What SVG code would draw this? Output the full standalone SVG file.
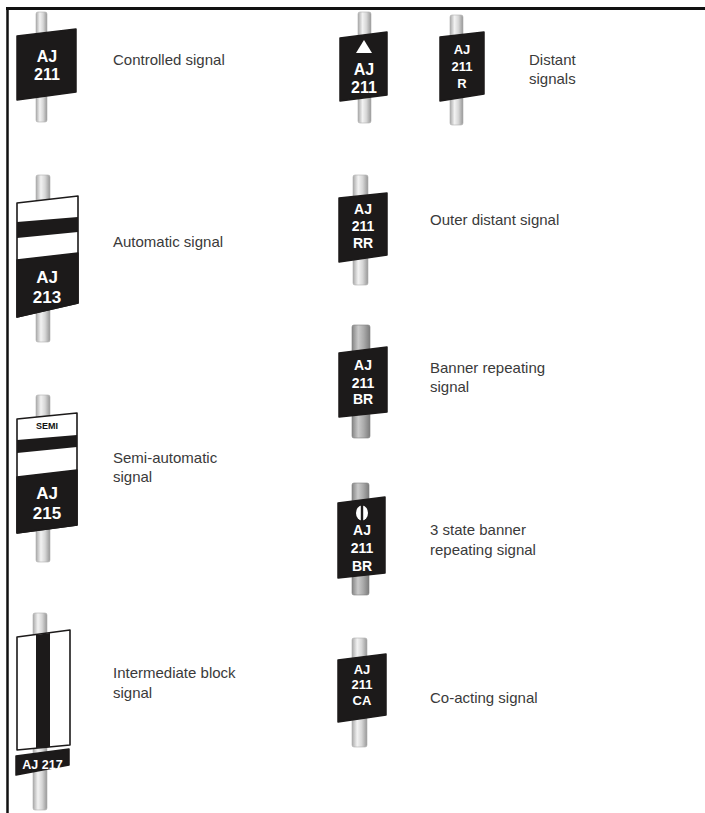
<svg xmlns="http://www.w3.org/2000/svg" width="705" height="813" viewBox="0 0 705 813">
<defs>
<linearGradient id="pole" x1="0" y1="0" x2="1" y2="0">
<stop offset="0" stop-color="#a9a9a9"/>
<stop offset="0.35" stop-color="#f2f2f2"/>
<stop offset="0.65" stop-color="#d6d6d6"/>
<stop offset="1" stop-color="#989898"/>
</linearGradient>
<linearGradient id="poleDark" x1="0" y1="0" x2="1" y2="0">
<stop offset="0" stop-color="#858585"/>
<stop offset="0.35" stop-color="#cacaca"/>
<stop offset="0.65" stop-color="#ababab"/>
<stop offset="1" stop-color="#7c7c7c"/>
</linearGradient>
</defs>
<style>
.pole{fill:url(#pole);stroke:#b0b0b0;stroke-width:0.6}
.poled{fill:url(#poleDark);stroke:#808080;stroke-width:0.6}
.board{fill:#1c1a1a;stroke:#1c1a1a;stroke-width:1.5;stroke-linejoin:round}
.wboard{fill:#fff;stroke:#1c1a1a;stroke-width:1.6;stroke-linejoin:round}
.blk{fill:#1c1a1a}
.st{font-family:"Liberation Sans",Arial,sans-serif;font-weight:bold;fill:#fff;text-anchor:middle}
.lbl{font-family:"Liberation Sans",Arial,sans-serif;font-size:15px;fill:#3a3a3a}
</style>
<g id="frame" stroke="#111" fill="none">
<line x1="6" y1="8.5" x2="705" y2="8.5" stroke-width="3"/>
<line x1="7.5" y1="7" x2="7.5" y2="813" stroke-width="2.5"/>
</g>
<g id="connectors"/>

<g id="controlled">
<rect class="pole" x="36" y="12" width="11" height="110" rx="2"/>
<path class="board" d="M17,36 L76,29 L76,92 L17,100 Z"/>
<text class="st" x="47" y="62" font-size="16">AJ</text>
<text class="st" x="47" y="80" font-size="16">211</text>
<text class="lbl" x="113" y="65">Controlled signal</text>
</g>

<g id="distant1">
<rect class="pole" x="358" y="12" width="13" height="111" rx="2"/>
<path class="board" d="M340,38 L387,32 L387,95 L340,101 Z"/>
<polygon points="364,40 356,53 372,53" fill="#fff"/>
<text class="st" x="364" y="75" font-size="16">AJ</text>
<text class="st" x="364" y="93" font-size="16">211</text>
</g>

<g id="distant2">
<rect class="pole" x="450" y="15" width="13" height="110" rx="2"/>
<path class="board" d="M440,37 L484,32 L484,94 L440,101 Z"/>
<text class="st" x="462" y="54" font-size="13">AJ</text>
<text class="st" x="462" y="71" font-size="13">211</text>
<text class="st" x="462" y="88" font-size="13">R</text>
<text class="lbl" x="529" y="65">Distant</text>
<text class="lbl" x="529" y="84">signals</text>
</g>

<g id="automatic">
<rect class="pole" x="36" y="175" width="14" height="167" rx="2"/>
<path class="wboard" d="M17,203 L78,196 L78,303 L17,317 Z"/>
<path class="blk" d="M17,222 L78,217 L78,232 L17,238 Z"/>
<path class="board" d="M17,260 L78,253 L78,303 L17,317 Z"/>
<text class="st" x="47" y="283" font-size="17">AJ</text>
<text class="st" x="47" y="303" font-size="17">213</text>
<text class="lbl" x="113" y="247">Automatic signal</text>
</g>

<g id="semi">
<rect class="pole" x="36" y="395" width="14" height="167" rx="2"/>
<path class="wboard" d="M17,419 L77,413 L77,525 L17,533 Z"/>
<text class="st" x="47" y="429" font-size="9" style="fill:#111">SEMI</text>
<path class="blk" d="M17,440 L77,435 L77,447 L17,453 Z"/>
<path class="board" d="M17,477 L77,470 L77,525 L17,533 Z"/>
<text class="st" x="47" y="499" font-size="17">AJ</text>
<text class="st" x="47" y="519" font-size="17">215</text>
<text class="lbl" x="113" y="463">Semi-automatic</text>
<text class="lbl" x="113" y="482">signal</text>
</g>

<g id="intermediate">
<rect class="pole" x="33" y="613" width="14" height="197" rx="2"/>
<path class="wboard" d="M17,637 L70,630 L70,745 L17,750 Z"/>
<path class="blk" d="M36,635 L50,633 L50,747 L36,748 Z"/>
<path class="board" d="M16,756 L69,749 L69,765 L16,775 Z"/>
<text class="st" x="42.5" y="769" font-size="12.5">AJ 217</text>
<text class="lbl" x="113" y="678">Intermediate block</text>
<text class="lbl" x="113" y="698">signal</text>
</g>

<g id="outer-distant">
<rect class="pole" x="353" y="175" width="15" height="110" rx="2"/>
<path class="board" d="M339,198 L387,193 L387,255 L339,262 Z"/>
<text class="st" x="363" y="214" font-size="14">AJ</text>
<text class="st" x="363" y="231" font-size="14">211</text>
<text class="st" x="363" y="248" font-size="14">RR</text>
<text class="lbl" x="430" y="225">Outer distant signal</text>
</g>

<g id="banner">
<rect class="poled" x="352" y="325" width="18" height="113" rx="2"/>
<path class="board" d="M339,353 L387,347 L387,412 L339,417 Z"/>
<text class="st" x="363" y="370" font-size="14">AJ</text>
<text class="st" x="363" y="388" font-size="14">211</text>
<text class="st" x="363" y="404" font-size="14">BR</text>
<text class="lbl" x="430" y="373">Banner repeating</text>
<text class="lbl" x="430" y="392">signal</text>
</g>

<g id="three-state">
<rect class="poled" x="352" y="483" width="17" height="112" rx="2"/>
<path class="board" d="M338,503 L385,497 L385,573 L338,578 Z"/>
<ellipse cx="362" cy="513" rx="6" ry="7.5" fill="#fff"/>
<rect x="360.8" y="505" width="2.4" height="16" fill="#1c1a1a"/>
<text class="st" x="362" y="535" font-size="14">AJ</text>
<text class="st" x="362" y="553" font-size="14">211</text>
<text class="st" x="362" y="571" font-size="14">BR</text>
<text class="lbl" x="430" y="535">3 state banner</text>
<text class="lbl" x="430" y="555">repeating signal</text>
</g>

<g id="co-acting">
<rect class="pole" x="352" y="638" width="15" height="109" rx="2"/>
<path class="board" d="M338,660 L386,654 L386,715 L338,722 Z"/>
<text class="st" x="362" y="674" font-size="13">AJ</text>
<text class="st" x="362" y="689" font-size="13">211</text>
<text class="st" x="362" y="705" font-size="13">CA</text>
<text class="lbl" x="430" y="703">Co-acting signal</text>
</g>
</svg>
